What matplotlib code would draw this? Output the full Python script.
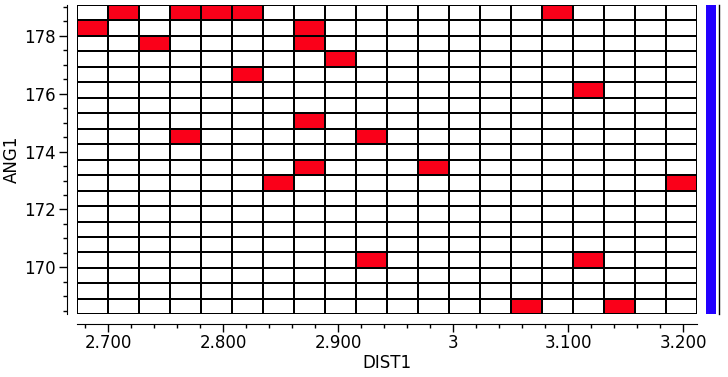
import numpy as np
import matplotlib.pyplot as plt
from matplotlib.colors import ListedColormap
from matplotlib.ticker import MultipleLocator, FuncFormatter

# -----------------------------
# data: observed (DIST1, ANG1) pairs, read off the chart
# -----------------------------
dist1 = [2.7135, 2.7674, 2.7943, 2.8213, 3.0909,
         2.6865, 2.8752,
         2.7404, 2.8752,
         2.9022,
         2.8213,
         3.1178,
         2.8752,
         2.7674, 2.9291,
         2.8752, 2.9830,
         2.8483, 3.1987,
         2.9291, 3.1178,
         3.0639, 3.1448]
ang1 = [178.79, 178.79, 178.79, 178.79, 178.79,
        178.26, 178.26,
        177.72, 177.72,
        177.19,
        176.66,
        176.12,
        175.05,
        174.52, 174.52,
        173.45, 173.45,
        172.92, 172.92,
        170.25, 170.25,
        168.65, 168.65]

# 20 x 20 bins
x_edges = np.linspace(2.673, 3.2122, 21)
y_edges = np.linspace(168.38, 179.06, 21)

counts, _, _ = np.histogram2d(dist1, ang1, bins=[x_edges, y_edges])

# -----------------------------
# plot
# -----------------------------
plt.rcParams['font.family'] = ['DejaVu Sans']
fig = plt.figure(figsize=(7.28, 3.77), dpi=100)
ax = fig.add_axes([77/728, 1 - 314.3/377, 620/728, 309.3/377])

cmap = ListedColormap(['white', '#fa0019'])
ax.pcolormesh(x_edges, y_edges, counts.T, cmap=cmap, vmin=0, vmax=1,
              edgecolors='black', linewidth=1.1)

ax.set_xlim(x_edges[0], x_edges[-1])
ax.set_ylim(y_edges[0], y_edges[-1])

for s in ['top', 'right']:
    ax.spines[s].set_visible(False)
ax.spines['left'].set_position(('outward', 7))
ax.spines['bottom'].set_position(('outward', 7))

ax.xaxis.set_major_locator(MultipleLocator(0.1))
ax.xaxis.set_minor_locator(MultipleLocator(0.02))
ax.yaxis.set_major_locator(MultipleLocator(2))
ax.yaxis.set_minor_locator(MultipleLocator(0.5))

def fmt_x(v, pos):
    if abs(v - round(v)) < 1e-9:
        return '%d' % round(v)
    return '%.3f' % v

ax.xaxis.set_major_formatter(FuncFormatter(fmt_x))
ax.yaxis.set_major_formatter(FuncFormatter(lambda v, p: '%d' % round(v)))

ax.tick_params(which='major', direction='out', length=5.5, width=1, labelsize=12)
ax.tick_params(which='minor', direction='out', length=3, width=1)
ax.tick_params(axis='x', pad=2)
ax.tick_params(axis='y', pad=3)

ax.set_xlabel('DIST1', fontsize=12, labelpad=1)
ax.set_ylabel('ANG1', fontsize=12, labelpad=2)

# colour scale bar on the right
cax = fig.add_axes([706/728, 1 - 314.3/377, 10/728, 309.3/377])
cax.set_facecolor('#2200ff')
cax.set_xticks([])
cax.set_yticks([])
for s in ['top', 'bottom', 'left']:
    cax.spines[s].set_visible(False)
cax.spines['right'].set_position(('outward', 2))
cax.spines['right'].set_linewidth(1)

fig.savefig('out.png', dpi=100)
